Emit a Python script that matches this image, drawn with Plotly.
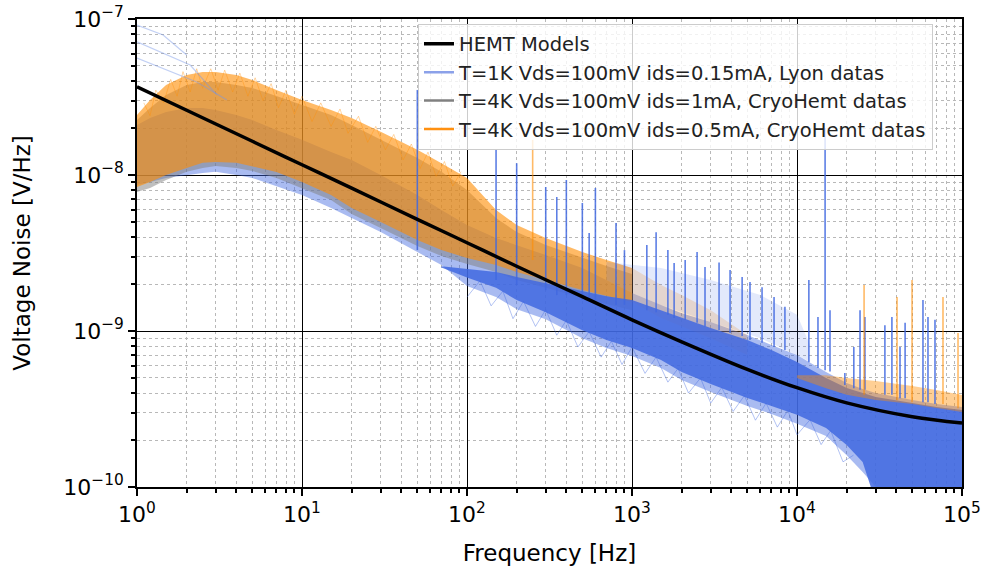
import plotly.graph_objects as go

# ---------------- data ----------------
# HEMT model curve
model_f = [1, 2, 5, 10, 20, 50, 100, 200, 500, 1000, 2000, 5000, 1e4, 2e4, 5e4, 1e5]
model_v = [3.68e-8, 2.60e-8, 1.645e-8, 1.163e-8, 8.23e-9, 5.2e-9, 3.68e-9, 2.60e-9,
           1.66e-9, 1.18e-9, 8.53e-10, 5.68e-10, 4.33e-10, 3.46e-10, 2.82e-10, 2.57e-10]

# CryoHemt 0.5 mA (orange) envelope, 1 Hz - 1 kHz
orange_f = [1, 1.2, 1.5, 2, 2.5, 3, 4, 5, 7, 10, 15, 20, 30, 50, 70, 100, 150, 200, 300, 500, 700, 1000]
orange_hi = [2.42e-8, 3.03e-8, 3.78e-8, 4.38e-8, 4.57e-8, 4.57e-8, 4.38e-8, 4.06e-8, 3.51e-8, 3.03e-8,
             2.61e-8, 2.32e-8, 1.89e-8, 1.45e-8, 1.19e-8, 9.57e-9, 5.97e-9, 4.78e-9, 3.94e-9, 3.21e-9,
             2.85e-9, 2.53e-9]
orange_lo = [8.38e-9, 9.02e-9, 1.0e-8, 1.11e-8, 1.20e-8, 1.21e-8, 1.20e-8, 1.14e-8, 1.045e-8, 9.02e-9,
             7.45e-9, 6.14e-9, 5.0e-9, 3.83e-9, 3.30e-9, 2.94e-9, 2.65e-9, 2.39e-9, 2.12e-9, 1.83e-9,
             1.675e-9, 1.535e-9]
# ragged top edge of the orange traces
orange_hair_f = [1.1, 1.2, 1.3, 1.45, 1.6, 1.75, 1.9, 2.1, 2.3, 2.5, 2.8, 3.1, 3.4, 3.8, 4.2, 4.7, 5.2,
                 5.8, 6.5, 7.2, 8, 9, 10, 11.5, 13, 15, 17, 19, 22, 25, 28, 32, 36, 41, 46, 52, 58,
                 65, 73, 82, 92]
orange_hair_v = [2.9e-8, 2.4e-8, 3.5e-8, 2.9e-8, 4.1e-8, 3.2e-8, 4.6e-8, 3.4e-8, 4.8e-8, 3.6e-8,
                 4.8e-8, 3.5e-8, 4.7e-8, 3.4e-8, 4.5e-8, 3.2e-8, 4.2e-8, 3.0e-8, 3.85e-8, 2.7e-8,
                 3.5e-8, 2.45e-8, 3.2e-8, 2.2e-8, 2.9e-8, 2.05e-8, 2.65e-8, 1.85e-8, 2.38e-8, 1.62e-8,
                 2.05e-8, 1.45e-8, 1.82e-8, 1.25e-8, 1.58e-8, 1.1e-8, 1.4e-8, 9.8e-9, 1.22e-8, 8.5e-9,
                 1.05e-8]
# faint orange continuation 1 kHz - 5 kHz
orange_mid_f = [1000, 1500, 2000, 3000, 5000]
orange_mid_hi = [2.53e-9, 1.97e-9, 1.70e-9, 1.36e-9, 9.42e-10]
orange_mid_lo = [1.54e-9, 1.21e-9, 1.076e-9, 9.0e-10, 7.02e-10]
# orange strip at high frequency
orange_hf_f = [1e4, 1.5e4, 2e4, 3e4, 5e4, 7e4, 1e5]
orange_hf_hi = [5.2e-10, 5.2e-10, 5.0e-10, 4.78e-10, 4.44e-10, 4.19e-10, 3.89e-10]
orange_hf_lo = [5.0e-10, 4.3e-10, 3.9e-10, 3.61e-10, 3.40e-10, 3.21e-10, 3.03e-10]

# CryoHemt 1 mA (grey) envelope
grey_f = orange_f
grey_hi = [2.25e-8, 2.69e-8, 3.26e-8, 3.78e-8, 3.95e-8, 3.95e-8, 3.78e-8, 3.61e-8, 3.21e-8, 2.81e-8,
           2.42e-8, 2.09e-8, 1.68e-8, 1.285e-8, 1.05e-8, 8.02e-9, 5.30e-9, 4.31e-9, 3.56e-9, 2.94e-9,
           2.61e-9, 2.32e-9]
grey_lo = [7.78e-9, 8.26e-9, 9.29e-9, 1.05e-8, 1.11e-8, 1.14e-8, 1.11e-8, 1.06e-8, 9.57e-9, 8.26e-9,
           6.92e-9, 5.62e-9, 4.57e-9, 3.51e-9, 3.03e-9, 2.69e-9, 2.39e-9, 2.12e-9, 1.89e-9, 1.63e-9,
           1.49e-9, 1.36e-9]

# Lyon 1 K (blue) outer envelope
blue_f = [1, 1.2, 1.5, 2, 2.5, 3, 4, 5, 7, 10, 15, 20, 30, 50, 70, 100, 150, 200, 300, 500, 700,
          1000, 1500, 2000, 3000, 5000, 7000, 1e4, 1.5e4, 2e4, 2.5e4, 3e4, 5e4, 7e4, 1e5]
blue_hi = [2.09e-8, 2.32e-8, 2.535e-8, 2.69e-8, 2.69e-8, 2.61e-8, 2.42e-8, 2.25e-8, 1.94e-8, 1.68e-8,
           1.404e-8, 1.25e-8, 1.0e-8, 7.45e-9, 5.97e-9, 4.78e-9, 3.94e-9, 3.56e-9, 3.07e-9, 2.53e-9,
           2.12e-9, 1.754e-9, 1.47e-9, 1.30e-9, 1.14e-9, 9.42e-10, 8.13e-10, 7.02e-10, 5.46e-10,
           4.64e-10, 4.25e-10, 4.01e-10, 3.61e-10, 3.40e-10, 3.26e-10]
blue_lo = [8.63e-9, 9.02e-9, 9.57e-9, 1.0e-8, 1.03e-8, 1.05e-8, 1.0e-8, 9.57e-9, 8.5e-9, 7.45e-9,
           6.14e-9, 5.3e-9, 4.31e-9, 3.21e-9, 2.65e-9, 1.94e-9, 1.65e-9, 1.38e-9, 1.19e-9, 9.0e-10,
           7.78e-10, 6.92e-10, 5.79e-10, 4.85e-10, 4.06e-10, 3.31e-10, 2.94e-10, 2.54e-10, 2.12e-10,
           1.60e-10, 1.25e-10, 1.0e-10, 8e-11, 8e-11, 8e-11]
# Lyon dense core
blue_core_f = [70, 100, 150, 200, 300, 500, 700, 1000, 1500, 2000, 3000, 5000, 7000, 1e4, 1.5e4, 2e4,
               2.5e4, 3e4, 5e4, 7e4, 1e5]
blue_core_hi = [2.6e-9, 2.5e-9, 2.39e-9, 2.22e-9, 2.03e-9, 1.80e-9, 1.67e-9, 1.58e-9, 1.36e-9, 1.21e-9,
                1.045e-9, 8.75e-10, 7.55e-10, 6.32e-10, 5.0e-10, 4.31e-10, 4.0e-10, 3.78e-10, 3.45e-10,
                3.26e-10, 3.12e-10]
blue_core_lo = [2.55e-9, 2.2e-9, 1.89e-9, 1.58e-9, 1.32e-9, 1.01e-9, 8.75e-10, 7.78e-10, 6.52e-10,
                5.46e-10, 4.57e-10, 3.72e-10, 3.31e-10, 2.90e-10, 2.39e-10, 1.86e-10, 1.445e-10, 8e-11,
                8e-11, 8e-11, 8e-11]
# ragged bottom edge of the Lyon traces
blue_hair_f = [100, 120, 140, 165, 190, 220, 260, 300, 350, 400, 470, 550, 650, 750, 870, 1000, 1200,
               1400, 1650, 1900, 2200, 2600, 3000, 3500, 4100, 4800, 5600, 6500, 7600, 8800, 1e4,
               1.2e4, 1.4e4, 1.6e4, 1.9e4, 2.2e4]
blue_hair_v = [1.65e-9, 2.1e-9, 1.45e-9, 1.8e-9, 1.2e-9, 1.55e-9, 1.07e-9, 1.37e-9, 9.4e-10, 1.17e-9,
               7.9e-10, 9.9e-10, 6.8e-10, 8.6e-10, 6.1e-10, 7.9e-10, 5.35e-10, 6.8e-10, 4.7e-10, 5.75e-10,
               4.0e-10, 5.0e-10, 3.45e-10, 4.35e-10, 3.05e-10, 3.85e-10, 2.68e-10, 3.45e-10, 2.42e-10,
               3.1e-10, 2.16e-10, 2.7e-10, 1.87e-10, 2.3e-10, 1.45e-10, 1.6e-10]
# light haze of a few higher Lyon traces
haze_f = [700, 1000, 1500, 3000, 6000, 1e4, 1.2e4]
haze_hi = [2.77e-9, 2.65e-9, 2.53e-9, 2.12e-9, 1.70e-9, 1.27e-9, 8.13e-10]
haze_lo = [2.12e-9, 1.75e-9, 1.47e-9, 1.14e-9, 9.0e-10, 7.02e-10, 6.33e-10]

# faint high Lyon traces at low frequency
faintA_f = [1, 2.1, 3.05]
faintA_v = [7.13e-8, 5.07e-8, 3.26e-8]
faintB_f = [1, 1.44, 2.0]
faintB_v = [9.15e-8, 7.9e-8, 5.88e-8]
faintC_f = [1, 2.3, 3.5]
faintC_v = [5.62e-8, 3.95e-8, 3.03e-8]

# mains-harmonic spikes (Lyon, blue)
spike_f = [50, 150, 200, 300, 350, 400, 500, 550, 600, 800, 900, 1230, 1400, 1650, 1800, 2100, 2480,
           2770, 3370, 3930, 4650, 5190, 6140, 7260, 8450, 11800, 13400, 14800, 15850, 19500, 22100,
           24100, 25800, 34100, 37600, 42100, 45200, 58000, 62200, 68600]
spike_top = [3.51e-8, 1.45e-8, 1.19e-8, 8.38e-9, 7.23e-9, 9.29e-9, 6.62e-9, 4.25e-9, 8.26e-9, 4.92e-9,
             3.30e-9, 3.56e-9, 4.30e-9, 3.30e-9, 2.73e-9, 2.85e-9, 3.21e-9, 2.57e-9, 2.75e-9, 2.46e-9,
             2.22e-9, 2.06e-9, 1.91e-9, 1.65e-9, 1.43e-9, 2.12e-9, 1.23e-9, 2.0e-8, 1.36e-9, 5.38e-10,
             7.9e-10, 1.36e-9, 1.23e-9, 1.09e-9, 1.23e-9, 7.9e-10, 1.13e-9, 1.58e-9, 1.23e-9, 1.18e-9]
spike_base = [3.3e-9, 2.12e-9, 1.97e-9, 1.83e-9, 1.70e-9, 1.70e-9, 1.58e-9, 1.58e-9, 1.58e-9, 1.47e-9,
              1.47e-9, 1.36e-9, 1.32e-9, 1.27e-9, 1.21e-9, 1.18e-9, 1.13e-9, 1.07e-9, 1.01e-9, 9.7e-10,
              9.3e-10, 8.75e-10, 8.4e-10, 7.9e-10, 7.55e-10, 6.3e-10, 5.8e-10, 5.6e-10, 5.5e-10, 4.5e-10,
              4.3e-10, 4.2e-10, 4.2e-10, 3.9e-10, 3.9e-10, 3.7e-10, 3.7e-10, 3.5e-10, 3.5e-10, 3.4e-10]
# CryoHemt spikes (orange)
ospike_f = [250, 25500, 40400, 49800, 76700, 94600]
ospike_top = [1.68e-8, 1.97e-9, 1.65e-9, 2.12e-9, 1.65e-9, 9.7e-10]
ospike_base = [2.85e-9, 3.9e-10, 3.6e-10, 3.5e-10, 3.4e-10, 3.2e-10]

x_ticks = [1, 10, 100, 1000, 1e4, 1e5]
x_ticktext = ["10<sup>0</sup>", "10<sup>1</sup>", "10<sup>2</sup>", "10<sup>3</sup>",
              "10<sup>4</sup>", "10<sup>5</sup>"]
y_ticks = [1e-10, 1e-9, 1e-8, 1e-7]
y_ticktext = ["10<sup>\u221210</sup>", "10<sup>\u22129</sup>", "10<sup>\u22128</sup>",
              "10<sup>\u22127</sup>"]

legend_names = ["HEMT Models",
                "T=1K Vds=100mV ids=0.15mA, Lyon datas",
                "T=4K Vds=100mV ids=1mA, CryoHemt datas",
                "T=4K Vds=100mV ids=0.5mA, CryoHemt datas"]

# ---------------- figure ----------------
BLUE = "65,105,225"
ORANGE = "255,140,0"
fig = go.Figure()


def band(f, hi, lo, color, name):
    fig.add_trace(go.Scatter(x=list(f) + list(f)[::-1], y=list(hi) + list(lo)[::-1],
                             fill="toself", fillcolor=color, mode="lines",
                             line=dict(width=0, color=color), hoverinfo="skip",
                             showlegend=False, name=name))


def spikes(f, top, base, color, width, name):
    xs, ys = [], []
    for fi, t, b in zip(f, top, base):
        xs += [fi, fi, None]
        ys += [b, t, None]
    fig.add_trace(go.Scatter(x=xs, y=ys, mode="lines", line=dict(color=color, width=width),
                             showlegend=False, hoverinfo="skip", name=name))


def thin(f, v, color, width=1.0):
    fig.add_trace(go.Scatter(x=f, y=v, mode="lines", line=dict(color=color, width=width),
                             showlegend=False, hoverinfo="skip"))


band(blue_f, blue_hi, blue_lo, f"rgba({BLUE},0.45)", "lyon_outer")
band(grey_f, grey_hi, grey_lo, "rgba(128,128,128,0.5)", "grey")
band(orange_f, orange_hi, orange_lo, f"rgba({ORANGE},0.6)", "orange")
thin(orange_hair_f, orange_hair_v, f"rgba({ORANGE},0.35)", 1.0)
band(orange_mid_f, orange_mid_hi, orange_mid_lo, f"rgba({ORANGE},0.2)", "orange_mid")
band(haze_f, haze_hi, haze_lo, f"rgba({BLUE},0.15)", "haze")
band(blue_core_f, blue_core_hi, blue_core_lo, f"rgba({BLUE},0.85)", "lyon_core")
thin(blue_hair_f, blue_hair_v, f"rgba({BLUE},0.4)", 1.0)
band(orange_hf_f, orange_hf_hi, orange_hf_lo, f"rgba({ORANGE},0.42)", "orange_hf")

for fx, vy in [(faintA_f, faintA_v), (faintB_f, faintB_v), (faintC_f, faintC_v)]:
    thin(fx, vy, "rgba(120,150,230,0.45)", 1.2)

spikes(spike_f, spike_top, spike_base, f"rgba({BLUE},0.85)", 1.6, "lyon_spikes")
spikes(ospike_f, ospike_top, ospike_base, f"rgba({ORANGE},0.6)", 1.6, "cryo_spikes")

fig.add_trace(go.Scatter(x=model_f, y=model_v, mode="lines", line=dict(color="black", width=3.5, shape="spline"),
                         showlegend=False, name=legend_names[0]))

# legend entries
leg_styles = [dict(color="black", width=3.5),
              dict(color="rgba(100,130,225,0.75)", width=2.5),
              dict(color="#808080", width=2.5),
              dict(color="#ff9010", width=2.5)]
for nm, st in zip(legend_names, leg_styles):
    fig.add_trace(go.Scatter(x=[None], y=[None], mode="lines", line=st, name=nm, showlegend=True))

minor_x = [m * 10 ** d for d in range(0, 5) for m in range(2, 10)]
minor_y = [m * 10.0 ** d for d in range(-10, -7) for m in range(2, 10)]

axis_common = dict(type="log", showline=True, linecolor="black", linewidth=1.5, mirror=True,
                   ticks="outside", ticklen=7, tickwidth=1.5, tickcolor="black",
                   showgrid=True, gridcolor="black", gridwidth=1.3, zeroline=False,
                   tickfont=dict(family="DejaVu Sans", size=22, color="black"),
                   automargin=False)

fig.update_layout(
    width=983, height=573,
    margin=dict(l=137, r=21, t=19, b=86),
    paper_bgcolor="white", plot_bgcolor="white",
    font=dict(family="DejaVu Sans", color="black"),
    xaxis=dict(range=[0, 5], tickvals=x_ticks, ticktext=x_ticktext,
               title=dict(text="Frequency [Hz]", font=dict(size=23), standoff=19),
               minor=dict(tickvals=minor_x, ticks="outside", ticklen=4, tickcolor="black",
                          showgrid=True, gridcolor="#b8b8b8", griddash="dot", gridwidth=1),
               **axis_common),
    yaxis=dict(range=[-10, -7], tickvals=y_ticks, ticktext=y_ticktext,
               title=dict(text="Voltage Noise [V/Hz]", font=dict(size=23), standoff=26),
               minor=dict(tickvals=minor_y, ticks="outside", ticklen=4, tickcolor="black",
                          showgrid=True, gridcolor="#b8b8b8", griddash="dot", gridwidth=1),
               **axis_common),
    legend=dict(x=0.3406, y=0.99, xanchor="left", yanchor="top",
                bgcolor="rgba(255,255,255,0.8)", bordercolor="#cccccc", borderwidth=1,
                font=dict(family="DejaVu Sans", size=19.5, color="#222222")),
    showlegend=True,
)

fig.write_html("out.html", config={"displayModeBar": False},
               post_script="document.body.style.margin='0';")
